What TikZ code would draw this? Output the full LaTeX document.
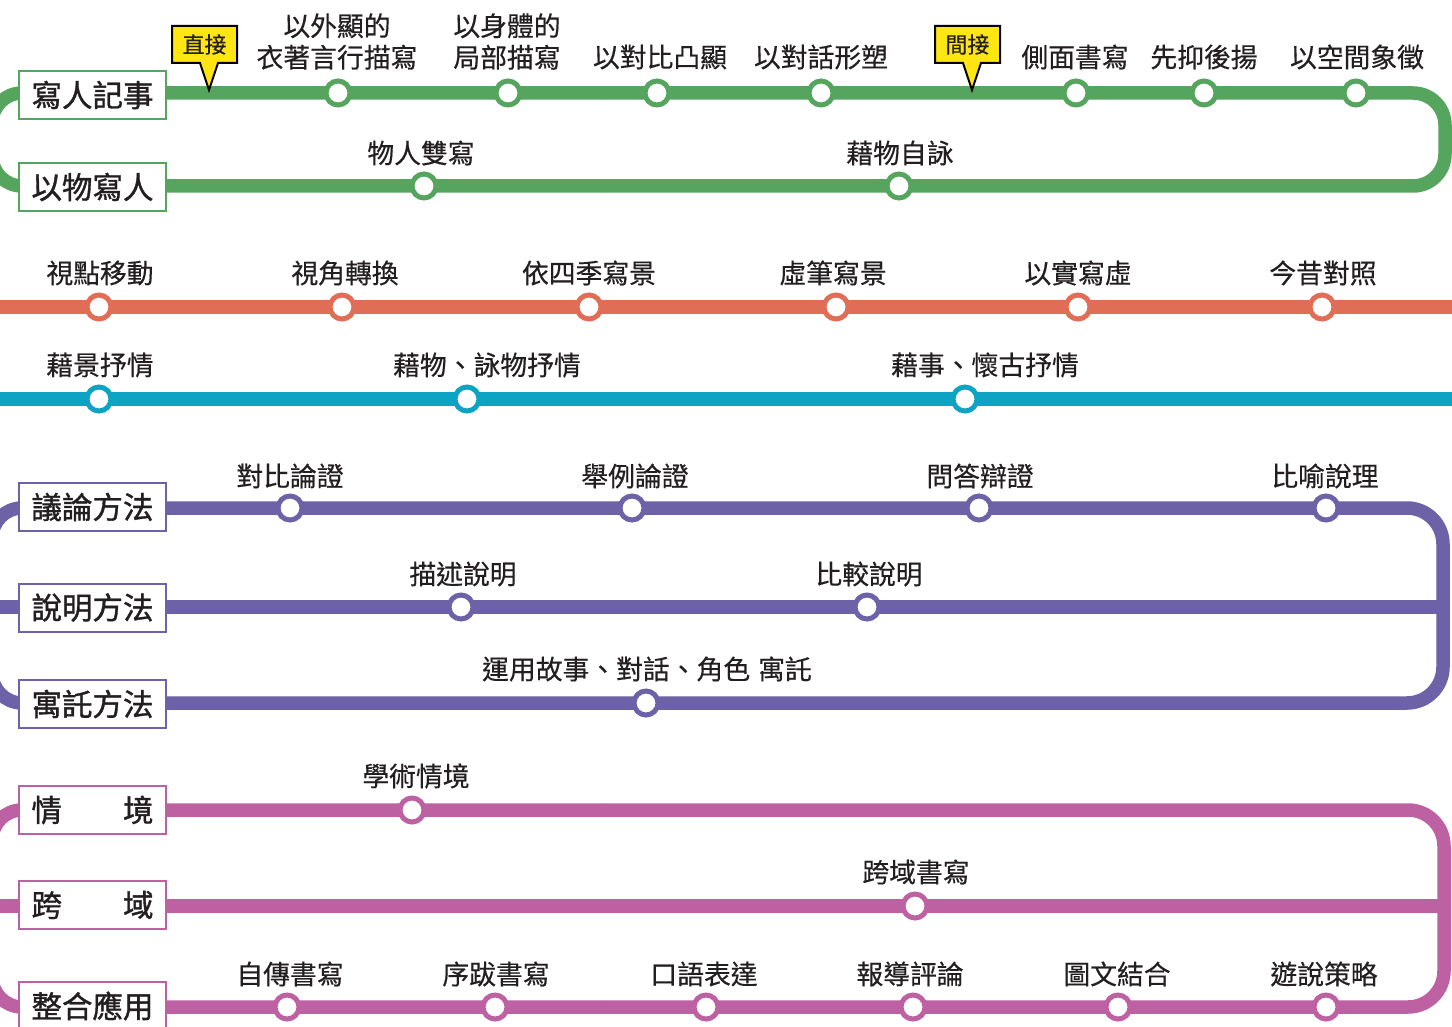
\documentclass[tikz,border=0pt]{standalone}
\usepackage{fontspec}
\newfontfamily\cjk{Noto Sans CJK TC}
\newfontfamily\cjkl[FakeBold=0.4]{Noto Sans CJK TC}
\newfontfamily\cjkm[FakeBold=1.2]{Noto Sans CJK TC}
\definecolor{txt}{HTML}{231F20}
\definecolor{lgreen}{HTML}{56A55E}
\definecolor{lred}{HTML}{E06D55}
\definecolor{lcyan}{HTML}{0DA4C3}
\definecolor{lpurple}{HTML}{6D62A7}
\definecolor{lpink}{HTML}{BD61A3}
\definecolor{lyellow}{HTML}{FFE512}
\newcommand\lblf{\cjkl\fontsize{26.8}{31.5}\selectfont}
\newcommand\tagf{\cjkm\fontsize{30.5}{36}\selectfont}
\newcommand\calf{\cjkl\fontsize{22}{26}\selectfont}
\tikzset{
  metro/.style={draw=#1, line width=13.5pt},
  stn/.style={circle, draw=#1, fill=white, line width=5pt, minimum size=24pt, inner sep=0pt},
  lbl/.style={font=\lblf, text=txt, inner sep=0pt, align=center},
  tagbox/.style={draw=#1, line width=2pt, fill=white, minimum width=147pt, minimum height=48pt, inner sep=0pt, font=\tagf, text=txt},
  callout/.style={draw=black, line width=2pt, fill=lyellow, line join=miter},
  caltext/.style={font=\calf, text=txt, inner sep=0pt},
}
\begin{document}
\begin{tikzpicture}[x=1pt,y=-1pt]
\useasboundingbox (0,0) rectangle (1452,1027);
\clip (0,0) rectangle (1452,1027);
\fill[white] (0,0) rectangle (1452,1027);

% ---------- coordinates of line ends / corners
\coordinate (gA) at (600,93);  \coordinate (gB) at (600,186);
\coordinate (gTR) at (1445,93); \coordinate (gBR) at (1445,186);
\coordinate (gTL) at (-8,93);   \coordinate (gBL) at (-8,186);
\coordinate (rL) at (-10,307);  \coordinate (rR) at (1462,307);
\coordinate (cL) at (-10,399);  \coordinate (cR) at (1462,399);
\coordinate (pA) at (600,508);  \coordinate (pB) at (600,703);
\coordinate (pTR) at (1443,508); \coordinate (pBR) at (1443,703);
\coordinate (pTL) at (-8,508);   \coordinate (pBL) at (-8,703);
\coordinate (pML) at (-8,607);   \coordinate (pMR) at (1443,607);
\coordinate (kA) at (600,810);  \coordinate (kB) at (600,1007);
\coordinate (kTR) at (1444,810); \coordinate (kBR) at (1444,1007);
\coordinate (kTL) at (-8,810);   \coordinate (kBL) at (-8,1007);
\coordinate (kML) at (-8,906);   \coordinate (kMR) at (1444,906);

% ---------- lines
\draw[metro=lgreen, rounded corners=32pt] (gA) -- (gTR) -- (gBR) -- (gB);
\draw[metro=lgreen, rounded corners=30pt] (gA) -- (gTL) -- (gBL) -- (gB);
\draw[metro=lred] (rL) -- (rR);
\draw[metro=lcyan] (cL) -- (cR);
\draw[metro=lpurple, rounded corners=36pt] (pA) -- (pTR) -- (pBR) -- (pB);
\draw[metro=lpurple, rounded corners=30pt] (pA) -- (pTL) -- (pBL) -- (pB);
\draw[metro=lpurple] (pML) -- (pMR);
\draw[metro=lpink, rounded corners=36pt] (kA) -- (kTR) -- (kBR) -- (kB);
\draw[metro=lpink, rounded corners=30pt] (kA) -- (kTL) -- (kBL) -- (kB);
\draw[metro=lpink] (kML) -- (kMR);

% ---------- line name boxes
\node[tagbox=lgreen] (t1) at (92.5,95) {寫人記事};
\node[tagbox=lgreen] (t2) at (92.5,187) {以物寫人};
\node[tagbox=lpurple] (t3) at (92.5,507) {議論方法};
\node[tagbox=lpurple] (t4) at (92.5,607.5) {說明方法};
\node[tagbox=lpurple] (t5) at (92.5,704) {寓託方法};
\node[tagbox=lpink] (t6) at (92.5,810) {情　　境};
\node[tagbox=lpink] (t7) at (92.5,905) {跨　　域};
\node[tagbox=lpink] (t8) at (92.5,1006) {整合應用};

% ---------- callouts
\path[callout] (172,26) -- (237,26) -- (237,63) -- (218,63) -- (209,90) -- (200,63) -- (172,63) -- cycle;
\node[caltext] (c1) at (204.5,44.5) {直接};
\path[callout] (935,26) -- (1000,26) -- (1000,63) -- (981,63) -- (972,90) -- (963,63) -- (935,63) -- cycle;
\node[caltext] (c2) at (967.5,44.5) {間接};

% ---------- green stations
\node[stn=lgreen] (g1) at (338,93) {};
\node[stn=lgreen] (g2) at (508,93) {};
\node[stn=lgreen] (g3) at (657,93) {};
\node[stn=lgreen] (g4) at (821,93) {};
\node[stn=lgreen] (g5) at (1076,93) {};
\node[stn=lgreen] (g6) at (1204,93) {};
\node[stn=lgreen] (g7) at (1356,93) {};
\node[stn=lgreen] (g8) at (424,186) {};
\node[stn=lgreen] (g9) at (899,186) {};
\node[lbl] (lg1) at (337,41.5) {以外顯的\\衣著言行描寫};
\node[lbl] (lg2) at (507,41.5) {以身體的\\局部描寫};
\node[lbl] (lg3) at (660,57) {以對比凸顯};
\node[lbl] (lg4) at (821,57) {以對話形塑};
\node[lbl] (lg5) at (1075,57) {側面書寫};
\node[lbl] (lg6) at (1204,57) {先抑後揚};
\node[lbl] (lg7) at (1357,57) {以空間象徵};
\node[lbl] (lg8) at (421,153) {物人雙寫};
\node[lbl] (lg9) at (900,153) {藉物自詠};

% ---------- red stations
\node[stn=lred] (r1) at (99,307) {};
\node[stn=lred] (r2) at (342,307) {};
\node[stn=lred] (r3) at (589,307) {};
\node[stn=lred] (r4) at (836,307) {};
\node[stn=lred] (r5) at (1078,307) {};
\node[stn=lred] (r6) at (1322,307) {};
\node[lbl] (lr1) at (100,273) {視點移動};
\node[lbl] (lr2) at (345,273) {視角轉換};
\node[lbl] (lr3) at (589,273) {依四季寫景};
\node[lbl] (lr4) at (833,273) {虛筆寫景};
\node[lbl] (lr5) at (1078,273) {以實寫虛};
\node[lbl] (lr6) at (1323,273) {今昔對照};

% ---------- cyan stations
\node[stn=lcyan] (c1s) at (99,399) {};
\node[stn=lcyan] (c2s) at (467,399) {};
\node[stn=lcyan] (c3s) at (965,399) {};
\node[lbl] (lc1) at (100,365) {藉景抒情};
\node[lbl] (lc2) at (487,365) {藉物、詠物抒情};
\node[lbl] (lc3) at (985,365) {藉事、懷古抒情};

% ---------- purple stations
\node[stn=lpurple] (p1) at (290,508) {};
\node[stn=lpurple] (p2) at (632,508) {};
\node[stn=lpurple] (p3) at (979,508) {};
\node[stn=lpurple] (p4) at (1326,508) {};
\node[stn=lpurple] (p5) at (461,607) {};
\node[stn=lpurple] (p6) at (867,607) {};
\node[stn=lpurple] (p7) at (646,703) {};
\node[lbl] (lp1) at (290,476) {對比論證};
\node[lbl] (lp2) at (635,476) {舉例論證};
\node[lbl] (lp3) at (980,476) {問答辯證};
\node[lbl] (lp4) at (1325,476) {比喻說理};
\node[lbl] (lp5) at (463,574) {描述說明};
\node[lbl] (lp6) at (869,574) {比較說明};
\node[lbl] (lp7) at (647,669) {運用故事、對話、角色\hspace{0.3em}寓託};

% ---------- pink stations
\node[stn=lpink] (k1) at (412,810) {};
\node[stn=lpink] (k2) at (915,906) {};
\node[stn=lpink] (k3) at (287,1007) {};
\node[stn=lpink] (k4) at (495,1007) {};
\node[stn=lpink] (k5) at (706,1007) {};
\node[stn=lpink] (k6) at (913,1007) {};
\node[stn=lpink] (k7) at (1118,1007) {};
\node[stn=lpink] (k8) at (1326,1007) {};
\node[lbl] (lk1) at (416,776) {學術情境};
\node[lbl] (lk2) at (916,872) {跨域書寫};
\node[lbl] (lk3) at (290,974) {自傳書寫};
\node[lbl] (lk4) at (496,974) {序跋書寫};
\node[lbl] (lk5) at (704,974) {口語表達};
\node[lbl] (lk6) at (910,974) {報導評論};
\node[lbl] (lk7) at (1117,974) {圖文結合};
\node[lbl] (lk8) at (1324,974) {遊說策略};
\end{tikzpicture}
\end{document}
